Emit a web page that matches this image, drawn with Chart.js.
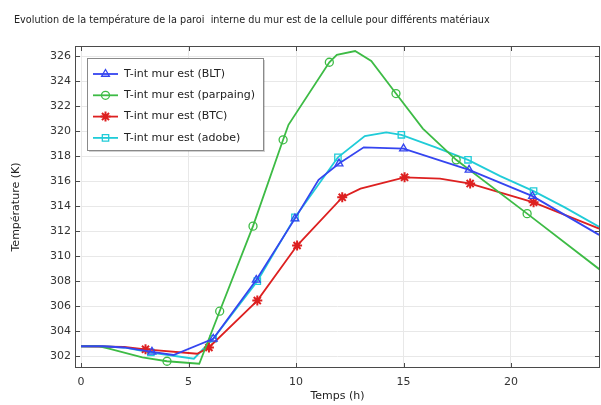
<!DOCTYPE html>
<html>
<head>
<meta charset="utf-8">
<script src="https://cdn.jsdelivr.net/npm/chart.js@4.4.0/dist/chart.umd.min.js"></script>
<style>
  body { margin: 0; background: #fff; }
</style>
</head>
<body>
<canvas id="graphique" width="601" height="405"></canvas>
<script>
// Valeurs : temps (h) et température (K)
const tempsBLT = [0, 1, 2, 3.3, 4.3, 6.15, 8.15, 9.95, 11.05, 12.0, 13.15, 15.0, 18.05, 21.0, 24.1];
const tempBLT  = [302.8, 302.8, 302.7, 302.35, 302.1, 303.4, 308.1, 313.0, 316.1, 317.4, 318.7, 318.6, 316.9, 314.8, 311.7];
const marquesBLT = [3, 5, 6, 7, 9, 11, 12, 13];

const tempsParpaing = [0, 0.8, 1.3, 2.85, 4.0, 5.5, 6.45, 8.0, 9.4, 9.65, 11.55, 11.9, 12.75, 13.5, 14.65, 15.9, 17.45, 20.75, 24.15];
const tempParpaing  = [302.8, 302.8, 302.6, 301.9, 301.6, 301.4, 305.6, 312.4, 319.3, 320.5, 325.5, 326.1, 326.4, 325.6, 323.0, 320.2, 317.7, 313.4, 308.9];
const marquesParpaing = [4, 6, 7, 8, 10, 14, 16, 17];

const tempsBTC = [0, 2, 3.0, 5.4, 5.95, 8.2, 10.05, 12.15, 13.0, 15.05, 16.7, 18.1, 21.05, 24.1];
const tempBTC  = [302.8, 302.75, 302.55, 302.2, 302.7, 306.45, 310.85, 314.7, 315.4, 316.3, 316.2, 315.8, 314.3, 312.2];
const marquesBTC = [2, 4, 5, 6, 7, 9, 11, 12];

const tempsAdobe = [0, 1, 2, 3.25, 5.25, 6.15, 8.2, 9.95, 11.95, 13.2, 14.2, 14.9, 16.5, 18.0, 19.5, 21.05, 22.5, 24.15];
const tempAdobe  = [302.8, 302.8, 302.7, 302.3, 301.8, 303.4, 308.0, 313.1, 317.9, 319.6, 319.9, 319.7, 318.7, 317.7, 316.4, 315.2, 313.9, 312.3];
const marquesAdobe = [3, 5, 6, 7, 8, 11, 13, 15];

const ticksX = [0, 5, 10, 15, 20];
const ticksY = [302, 304, 306, 308, 310, 312, 314, 316, 318, 320, 322, 324, 326];

const titre = 'Evolution de la température de la paroi  interne du mur est de la cellule pour différents matériaux';

Chart.defaults.font.family = 'DejaVu Sans';
Chart.defaults.font.size = 11;
Chart.defaults.color = '#333';

function serie(label, xs, ys, marques, couleur, style, rayon) {
  return {
    label: label,
    data: xs.map((x, i) => ({ x: x, y: ys[i] })),
    borderColor: couleur,
    borderWidth: 1.8,
    pointStyle: style,
    rayon: rayon,
    pointRadius: ctx => marques.includes(ctx.dataIndex) ? rayon : 0,
    pointHoverRadius: 0,
    pointBorderColor: couleur,
    pointBackgroundColor: 'rgba(255,255,255,0)',
    pointBorderWidth: style === 'star' ? 2 : 1.3,
    tension: 0
  };
}

// titre en haut à gauche
const pluginTitre = {
  id: 'titre',
  afterDraw(chart) {
    const ctx = chart.ctx;
    ctx.save();
    ctx.font = '9.7px "DejaVu Sans"';
    ctx.fillStyle = '#222';
    ctx.textBaseline = 'middle';
    ctx.fillText(titre, 14, 20);
    ctx.restore();
  }
};

// cadre avec graduations tournées vers l'intérieur
const pluginCadre = {
  id: 'cadre',
  afterDatasetsDraw(chart) {
    const { ctx, chartArea: a, scales } = chart;
    ctx.save();
    ctx.strokeStyle = '#4a4a4a';
    ctx.lineWidth = 1;
    ctx.strokeRect(a.left + 0.5, a.top + 0.5, a.width - 1, a.height - 1);
    ctx.beginPath();
    scales.x.ticks.forEach(t => {
      const px = Math.round(scales.x.getPixelForValue(t.value)) + 0.5;
      ctx.moveTo(px, a.bottom); ctx.lineTo(px, a.bottom - 5);
      ctx.moveTo(px, a.top); ctx.lineTo(px, a.top + 5);
    });
    scales.y.ticks.forEach(t => {
      const py = Math.round(scales.y.getPixelForValue(t.value)) + 0.5;
      ctx.moveTo(a.left, py); ctx.lineTo(a.left + 5, py);
      ctx.moveTo(a.right, py); ctx.lineTo(a.right - 5, py);
    });
    ctx.stroke();
    ctx.restore();
  }
};

// légende encadrée dans la zone du graphique
const pluginLegende = {
  id: 'legendeInterne',
  afterDraw(chart) {
    const ctx = chart.ctx;
    const bx = 87, by = 58, bw = 176, bh = 92;
    ctx.save();
    ctx.fillStyle = 'rgba(0,0,0,0.18)';
    ctx.fillRect(bx + 2, by + 2, bw, bh);
    ctx.fillStyle = '#fff';
    ctx.fillRect(bx, by, bw, bh);
    ctx.strokeStyle = '#8a8a8a';
    ctx.lineWidth = 1;
    ctx.strokeRect(bx + 0.5, by + 0.5, bw, bh);
    chart.data.datasets.forEach((ds, i) => {
      const y = 74 + i * 21.3;
      ctx.strokeStyle = ds.borderColor;
      ctx.lineWidth = 1.8;
      ctx.beginPath();
      ctx.moveTo(93, y); ctx.lineTo(118, y);
      ctx.stroke();
      ctx.fillStyle = 'rgba(255,255,255,0)';
      ctx.lineWidth = ds.pointBorderWidth;
      Chart.helpers.drawPoint(ctx, { pointStyle: ds.pointStyle, radius: ds.rayon, rotation: 0, borderWidth: ds.pointBorderWidth }, 105.5, y);
      ctx.fillStyle = '#222';
      ctx.font = '11px "DejaVu Sans"';
      ctx.textBaseline = 'middle';
      ctx.fillText(ds.label, 124, y);
    });
    ctx.restore();
  }
};

new Chart(document.getElementById('graphique'), {
  type: 'line',
  data: {
    datasets: [
      serie('T-int mur est (BLT)', tempsBLT, tempBLT, marquesBLT, '#3545f0', 'triangle', 4.5),
      serie('T-int mur est (parpaing)', tempsParpaing, tempParpaing, marquesParpaing, '#3dbb45', 'circle', 4),
      serie('T-int mur est (BTC)', tempsBTC, tempBTC, marquesBTC, '#dd2020', 'star', 5),
      serie('T-int mur est (adobe)', tempsAdobe, tempAdobe, marquesAdobe, '#20ccd8', 'rect', 4.5)
    ]
  },
  options: {
    responsive: false,
    animation: false,
    layout: { padding: { top: 46, right: 1, left: 0, bottom: 0 } },
    plugins: {
      legend: { display: false },
      tooltip: { enabled: false }
    },
    scales: {
      x: {
        type: 'linear',
        min: -0.28,
        max: 24.14,
        afterBuildTicks: axis => { axis.ticks = ticksX.map(v => ({ value: v })); },
        afterFit: axis => { axis.height = 37; },
        grid: { color: '#e8e8e8', drawTicks: false },
        border: { display: false },
        ticks: { padding: 8, color: '#333' },
        title: { display: true, text: 'Temps (h)', color: '#222', padding: { top: 0, bottom: 2 } }
      },
      y: {
        min: 301.06,
        max: 326.8,
        afterBuildTicks: axis => { axis.ticks = ticksY.map(v => ({ value: v })); },
        afterFit: axis => { axis.width = 75; },
        grid: { color: '#e8e8e8', drawTicks: false },
        border: { display: false },
        ticks: { padding: 4, color: '#333' },
        title: { display: true, text: 'Température (K)', color: '#222', padding: { top: 10, bottom: 0 } }
      }
    }
  },
  plugins: [pluginTitre, pluginCadre, pluginLegende]
});
</script>
</body>
</html>
